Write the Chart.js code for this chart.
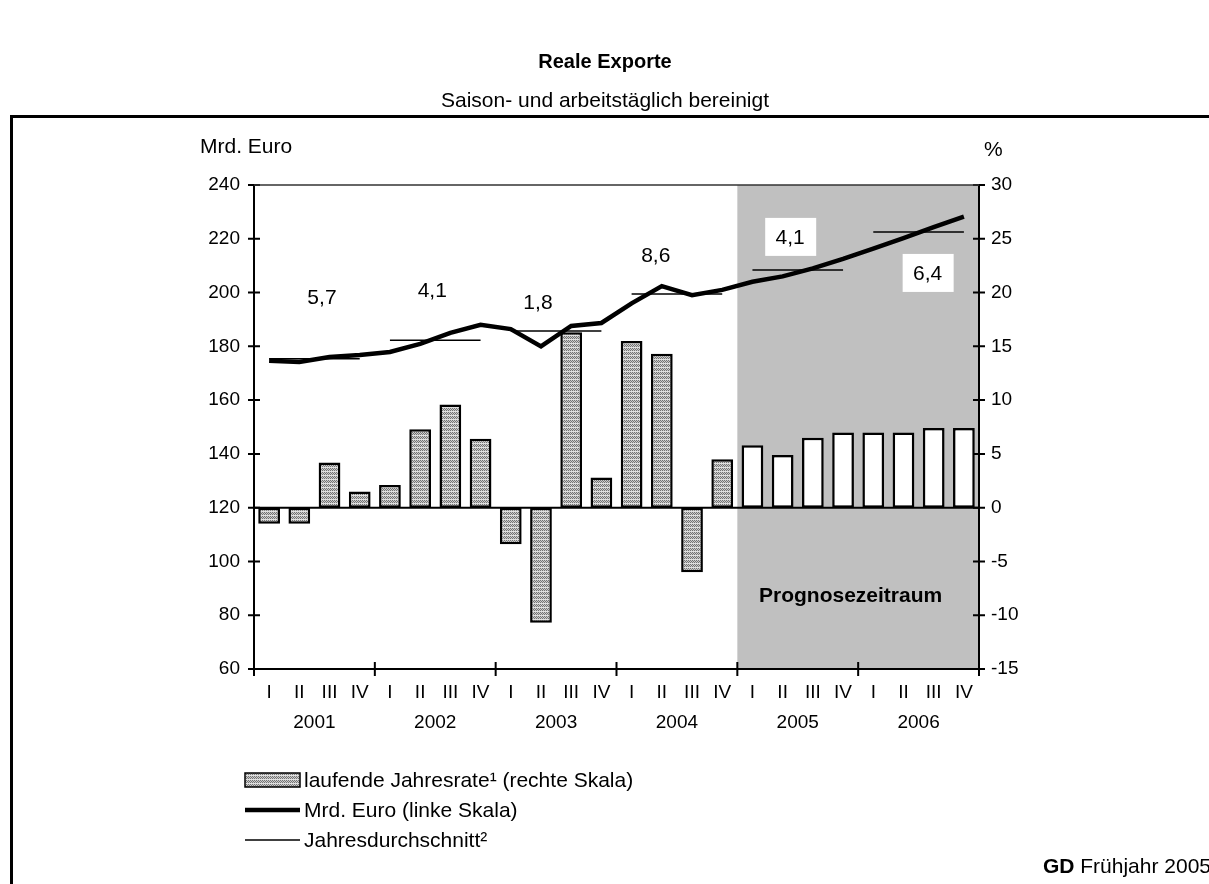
<!DOCTYPE html>
<html lang="de">
<head>
<meta charset="UTF-8">
<title>Reale Exporte</title>
<script src="https://cdn.jsdelivr.net/npm/chart.js"></script>
<style>
  html, body { margin: 0; padding: 0; background: #fff; }
  #c { display: block; }
</style>
</head>
<body>
<canvas id="c" width="1209" height="884"></canvas>
<script>
  // Daten
  const quarters = ['I', 'II', 'III', 'IV', 'I', 'II', 'III', 'IV', 'I', 'II', 'III', 'IV',
                    'I', 'II', 'III', 'IV', 'I', 'II', 'III', 'IV', 'I', 'II', 'III', 'IV'];
  const years = ['2001', '2002', '2003', '2004', '2005', '2006'];
  // laufende Jahresrate in % (rechte Skala)
  const jahresrate = [-1.5, -1.5, 4.2, 1.5, 2.1, 7.3, 9.6, 6.4, -3.4, -10.7, 16.3, 2.8,
                      15.5, 14.3, -6.0, 4.5, 5.8, 4.9, 6.5, 7.0, 7.0, 7.0, 7.4, 7.4];
  // Mrd. Euro (linke Skala)
  const mrdEuro = [174.6, 174.2, 176.0, 176.8, 177.9, 180.9, 185.0, 188.0, 186.4, 180.0, 187.6, 188.7,
                   196.0, 202.4, 199.0, 201.0, 204.0, 206.0, 209.0, 212.5, 216.3, 220.2, 224.3, 228.2];
  // Jahresdurchschnitt je Jahr (linke Skala)
  const jahresschnitt = [175.4, 182.3, 185.7, 199.5, 208.4, 222.5];
  // Veraenderung gegenueber Vorjahr in %
  const wachstum = ['5,7', '4,1', '1,8', '8,6', '4,1', '6,4'];
  const prognoseAb = 16; // erstes Quartal 2005

  // Lage der Beschriftungen in Achsenwerten [Quartalsindex, Mrd. Euro], Kasten ja/nein
  const labelAnchors = [[1.75, 198.3, false], [5.4, 200.9, false], [8.9, 196.5, false],
                        [12.8, 214.0, false], [17.25, 220.7, true], [21.8, 207.3, true]];

  const FONT = '"Liberation Sans", Arial, sans-serif';

  // Schraffur fuer die Balken
  const off = document.createElement('canvas');
  off.width = 4; off.height = 4;
  const octx = off.getContext('2d');
  const px = [
    ['#737373', '#cccccc', '#737373', '#cccccc'],
    ['#cccccc', '#737373', '#cccccc', '#737373'],
    ['#737373', '#cccccc', '#737373', '#cccccc'],
    ['#e0e0e0', '#e0e0e0', '#e0e0e0', '#e0e0e0']
  ];
  px.forEach((row, y) => row.forEach((c, x) => { octx.fillStyle = c; octx.fillRect(x, y, 1, 1); }));
  const canvas = document.getElementById('c');
  const ctx = canvas.getContext('2d');
  const hatch = ctx.createPattern(off, 'repeat');

  const avgData = quarters.map((q, i) => jahresschnitt[Math.floor(i / 4)]);

  const decor = {
    id: 'decor',
    beforeDatasetsDraw(chart) {
      const { ctx, chartArea: a, scales: { x, y1 } } = chart;
      const x0 = x.getPixelForValue(prognoseAb - 0.5);
      ctx.save();
      ctx.fillStyle = '#c0c0c0';
      ctx.fillRect(x0, a.top, a.right - x0, a.bottom - a.top);
      // Nulllinie
      const y0 = y1.getPixelForValue(0);
      ctx.strokeStyle = '#000';
      ctx.lineWidth = 2;
      ctx.beginPath();
      ctx.moveTo(a.left, y0);
      ctx.lineTo(a.right, y0);
      ctx.stroke();
      ctx.restore();
    },
    afterDatasetsDraw(chart) {
      const { ctx, chartArea: a, scales: { x, y, y1 } } = chart;
      ctx.save();
      ctx.strokeStyle = '#000';
      ctx.lineWidth = 2;
      ctx.beginPath();
      // Achsen
      ctx.moveTo(a.left, a.top); ctx.lineTo(a.left, a.bottom);
      ctx.moveTo(a.right, a.top); ctx.lineTo(a.right, a.bottom);
      ctx.moveTo(a.left, a.bottom); ctx.lineTo(a.right, a.bottom);
      y.ticks.forEach(t => {
        const p = y.getPixelForValue(t.value);
        ctx.moveTo(a.left - 6, p); ctx.lineTo(a.left + 6, p);
      });
      y1.ticks.forEach(t => {
        const p = y1.getPixelForValue(t.value);
        ctx.moveTo(a.right - 6, p); ctx.lineTo(a.right + 6, p);
      });
      for (let i = 0; i <= quarters.length; i += 4) {
        const p = x.getPixelForValue(i - 0.5);
        ctx.moveTo(p, a.bottom - 7); ctx.lineTo(p, a.bottom + 7);
      }
      ctx.stroke();
      ctx.lineWidth = 1.5;
      ctx.strokeStyle = '#333';
      ctx.beginPath();
      ctx.moveTo(a.left, a.top); ctx.lineTo(a.right, a.top);
      ctx.stroke();

      // Wachstumsraten
      ctx.font = '21px ' + FONT;
      ctx.textAlign = 'center';
      ctx.textBaseline = 'middle';
      labelAnchors.forEach((an, i) => {
        const lx = x.getPixelForValue(an[0]);
        const ly = y.getPixelForValue(an[1]);
        if (an[2]) {
          ctx.fillStyle = '#fff';
          ctx.fillRect(lx - 25, ly - 19, 51, 38);
        }
        ctx.fillStyle = '#000';
        ctx.fillText(wachstum[i], lx, ly + 1);
      });

      // Prognosezeitraum
      ctx.font = 'bold 21px ' + FONT;
      ctx.fillText('Prognosezeitraum', x.getPixelForValue(19.25), y.getPixelForValue(87.1));
      ctx.restore();
    },
    afterDraw(chart) {
      const { ctx } = chart;
      ctx.save();
      ctx.fillStyle = '#000';
      ctx.textBaseline = 'middle';
      ctx.textAlign = 'center';
      ctx.font = 'bold 20px ' + FONT;
      ctx.fillText('Reale Exporte', 605, 62);
      ctx.font = '21px ' + FONT;
      ctx.fillText('Saison- und arbeitstäglich bereinigt', 605, 101);

      ctx.textAlign = 'left';
      ctx.fillText('Mrd. Euro', 200, 147);
      ctx.fillText('%', 984, 150);

      // Rahmen
      ctx.strokeStyle = '#000';
      ctx.lineWidth = 3;
      ctx.beginPath();
      ctx.moveTo(11.5, 884); ctx.lineTo(11.5, 116.5); ctx.lineTo(1209, 116.5);
      ctx.stroke();

      // Legende
      const lx = 245, lw = 55, tx = 304;
      ctx.fillStyle = hatch;
      ctx.fillRect(lx, 773, lw, 14);
      ctx.lineWidth = 1.5;
      ctx.strokeRect(lx, 773, lw, 14);
      ctx.beginPath();
      ctx.lineWidth = 4.5;
      ctx.moveTo(lx, 810); ctx.lineTo(lx + lw, 810);
      ctx.stroke();
      ctx.beginPath();
      ctx.lineWidth = 1.5;
      ctx.moveTo(lx, 840); ctx.lineTo(lx + lw, 840);
      ctx.stroke();
      ctx.fillStyle = '#000';
      ctx.fillText('laufende Jahresrate¹ (rechte Skala)', tx, 781);
      ctx.fillText('Mrd. Euro (linke Skala)', tx, 811);
      ctx.fillText('Jahresdurchschnitt²', tx, 841);

      // Quelle
      ctx.textAlign = 'right';
      const rest = ' Frühjahr 2005';
      const wRest = ctx.measureText(rest).width;
      ctx.fillText(rest, 1211, 867);
      ctx.font = 'bold 21px ' + FONT;
      ctx.fillText('GD', 1211 - wRest, 867);
      ctx.restore();
    }
  };

  new Chart(ctx, {
    data: {
      labels: quarters,
      datasets: [
        {
          type: 'bar',
          label: 'laufende Jahresrate¹ (rechte Skala)',
          data: jahresrate,
          yAxisID: 'y1',
          backgroundColor: c => c.dataIndex >= prognoseAb ? '#ffffff' : hatch,
          borderColor: '#000',
          borderWidth: 2.5,
          borderSkipped: false,
          categoryPercentage: 1,
          barPercentage: 0.72,
          order: 3
        },
        {
          type: 'line',
          label: 'Jahresdurchschnitt²',
          data: avgData,
          yAxisID: 'y',
          borderColor: '#000',
          borderWidth: 1.5,
          pointRadius: 0,
          tension: 0,
          segment: {
            borderColor: c => Math.floor(c.p0DataIndex / 4) === Math.floor(c.p1DataIndex / 4) ? '#000' : 'rgba(0,0,0,0)'
          },
          order: 2
        },
        {
          type: 'line',
          label: 'Mrd. Euro (linke Skala)',
          data: mrdEuro,
          yAxisID: 'y',
          borderColor: '#000',
          borderWidth: 4.5,
          pointRadius: 0,
          tension: 0,
          borderJoinStyle: 'miter',
          order: 1
        }
      ]
    },
    options: {
      responsive: false,
      animation: false,
      devicePixelRatio: 1,
      layout: { padding: { left: 0, top: 185, right: 170, bottom: 135 } },
      plugins: {
        legend: { display: false },
        title: { display: false },
        tooltip: { enabled: false }
      },
      scales: {
        x: {
          type: 'category',
          offset: true,
          grid: { display: false, drawTicks: false },
          border: { display: false },
          ticks: { autoSkip: false, maxRotation: 0, padding: 12, color: '#000', font: { family: FONT, size: 19 } },
          afterFit: s => { s.height = 40; }
        },
        x2: {
          type: 'category',
          labels: years,
          position: 'bottom',
          offset: true,
          grid: { display: false, drawTicks: false },
          border: { display: false },
          ticks: { autoSkip: false, maxRotation: 0, padding: 2, color: '#000', font: { family: FONT, size: 19 } },
          afterFit: s => { s.height = 40; }
        },
        y: {
          position: 'left',
          min: 60,
          max: 240,
          grid: { display: false, drawTicks: false },
          border: { display: false },
          ticks: { stepSize: 20, padding: 14, color: '#000', font: { family: FONT, size: 19 } },
          afterFit: s => { s.width = 254; }
        },
        y1: {
          position: 'right',
          min: -15,
          max: 30,
          grid: { display: false, drawTicks: false },
          border: { display: false },
          ticks: { stepSize: 5, padding: 12, color: '#000', font: { family: FONT, size: 19 } },
          afterFit: s => { s.width = 60; }
        }
      }
    },
    plugins: [decor]
  });
</script>
</body>
</html>
